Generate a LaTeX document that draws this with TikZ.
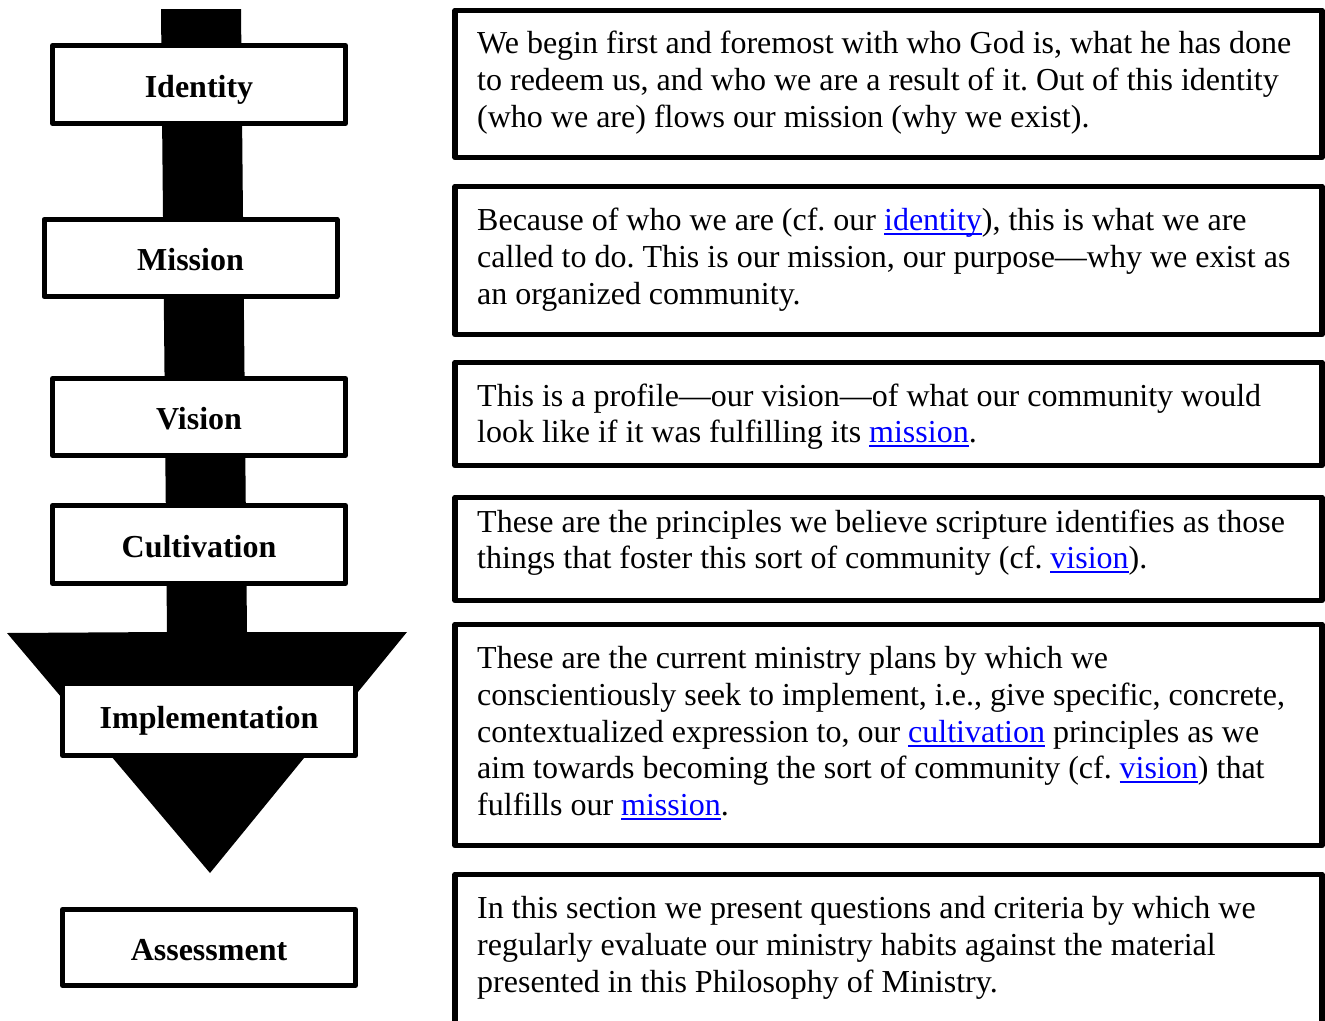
\documentclass[tikz,border=0pt]{standalone}
\usepackage{fontspec}
\setmainfont{Liberation Serif}
\frenchspacing
\definecolor{linkblue}{RGB}{0,0,255}
\newcommand\lnk[1]{{\color{linkblue}\setbox0\hbox{#1}\rlap{\vrule height -3pt depth 5pt width \wd0}\box0}}
\tikzset{
  label/.style={draw, fill=white, line width=5pt, line join=round, inner sep=0pt,
    minimum width=293pt, text height=25pt, text depth=0pt,
    font=\fontsize{32}{36}\selectfont\bfseries},
  descbox/.style={draw, line width=5.5pt, line join=round, inner sep=0pt, minimum width=867pt},
  txt/.style={anchor=base west, inner sep=0pt, font=\fontsize{32}{37}\selectfont}
}
\begin{document}
\begin{tikzpicture}[x=1pt,y=-1pt]
\useasboundingbox (0,0) rectangle (1325,1020);
\clip (0,0) rectangle (1325,1020);
% big black arrow
\fill[black] (161,9) -- (241,9) -- (247,632) -- (407,632) -- (210,873) -- (7,633) -- (167,632) -- cycle;
% left labels
\node[label, minimum height=78pt] (identity) at (199,84.5) {Identity};
\node[label, minimum height=77pt] (mission) at (190.5,258) {Mission};
\node[label, minimum height=77pt] (vision) at (199,417) {Vision};
\node[label, minimum height=78pt] (cultivation) at (199,544.5) {Cultivation};
\node[label, minimum height=72pt, text depth=7pt] (implementation) at (209,719.5) {Implementation};
\node[label, minimum height=76pt] (assessment) at (209,947.5) {Assessment};
% right description boxes
\node[descbox, minimum height=147pt] (b1) at (888.5,84) {};
\node[descbox, minimum height=148pt] (b2) at (888.5,260.5) {};
\node[descbox, minimum height=103pt] (b3) at (888.5,414) {};
\node[descbox, minimum height=103pt] (b4) at (888.5,549) {};
\node[descbox, minimum height=221pt] (b5) at (888.5,735) {};
\node[descbox, minimum height=170pt] (b6) at (888.5,959.5) {};
% box 1 text
\node[txt] (t1a) at (477,53) {We begin first and foremost with who God is, what he has done};
\node[txt] (t1b) at (477,90) {to redeem us, and who we are a result of it. Out of this identity};
\node[txt] (t1c) at (477,127) {(who we are) flows our mission (why we exist).};
% box 2 text
\node[txt] (t2a) at (477,230) {Because of who we are (cf. our \lnk{identity}), this is what we are};
\node[txt] (t2b) at (477,267) {called to do. This is our mission, our purpose—why we exist as};
\node[txt] (t2c) at (477,304) {an organized community.};
% box 3 text
\node[txt] (t3a) at (477,406) {This is a profile—our vision—of what our community would};
\node[txt] (t3b) at (477,442) {look like if it was fulfilling its \lnk{mission}.};
% box 4 text
\node[txt] (t4a) at (477,532) {These are the principles we believe scripture identifies as those};
\node[txt] (t4b) at (477,568) {things that foster this sort of community (cf. \lnk{vision}).};
% box 5 text
\node[txt] (t5a) at (477,668) {These are the current ministry plans by which we};
\node[txt] (t5b) at (477,705) {conscientiously seek to implement, i.e., give specific, concrete,};
\node[txt] (t5c) at (477,742) {contextualized expression to, our \lnk{cultivation} principles as we};
\node[txt] (t5d) at (477,778) {aim towards becoming the sort of community (cf. \lnk{vision}) that};
\node[txt] (t5e) at (477,815) {fulfills our \lnk{mission}.};
% box 6 text
\node[txt] (t6a) at (477,918) {In this section we present questions and criteria by which we};
\node[txt] (t6b) at (477,955) {regularly evaluate our ministry habits against the material};
\node[txt] (t6c) at (477,992) {presented in this Philosophy of Ministry.};
\end{tikzpicture}
\end{document}
